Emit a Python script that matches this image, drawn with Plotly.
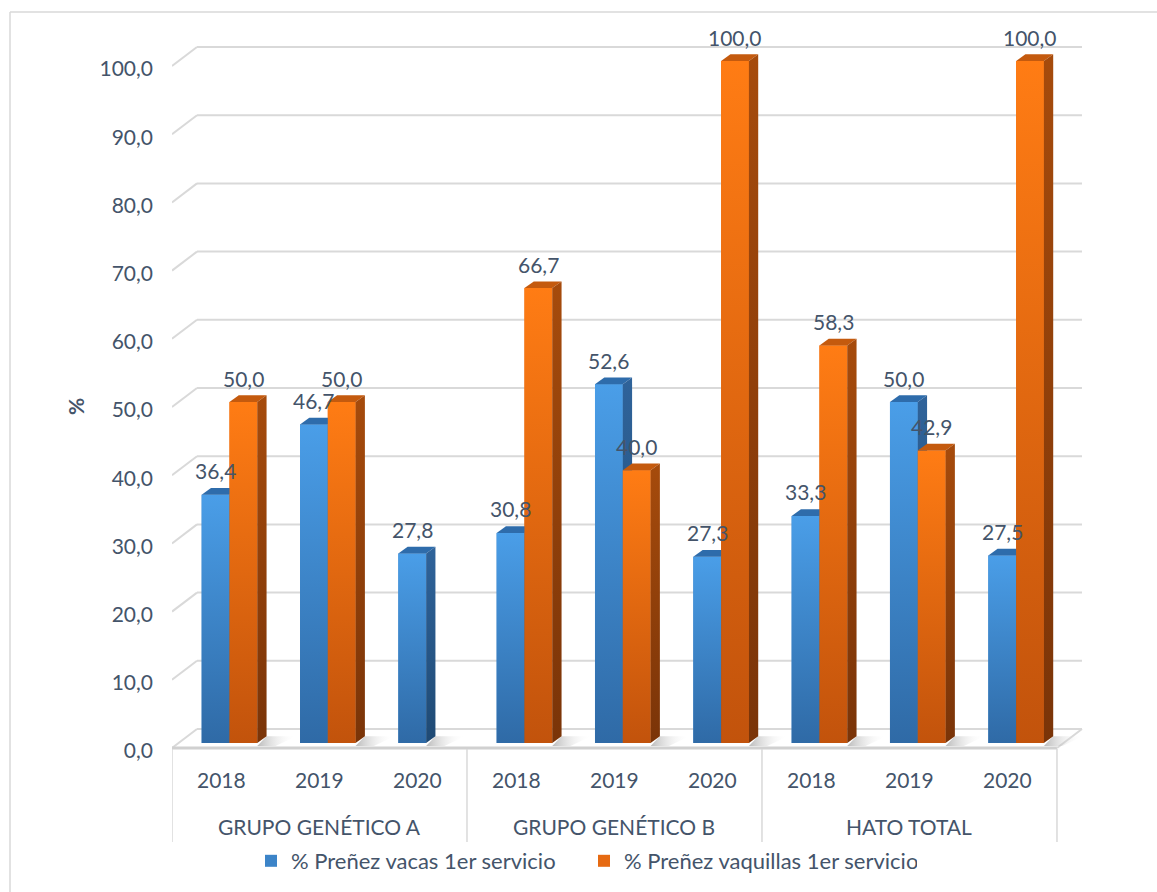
import plotly.graph_objects as go

# ---------------- data ----------------
groups = ["GRUPO GENÉTICO A", "GRUPO GENÉTICO B", "HATO TOTAL"]
years = ["2018", "2019", "2020"]
vacas = [36.4, 46.7, 27.8, 30.8, 52.6, 27.3, 33.3, 50.0, 27.5]
vaquillas = [50.0, 50.0, None, 66.7, 40.0, 100.0, 58.3, 42.9, 100.0]
series_names = ["% Preñez vacas 1er servicio", "% Preñez vaquillas 1er servicio"]
y_ticks = [0, 10, 20, 30, 40, 50, 60, 70, 80, 90, 100]

# ---------------- layout geometry (pixels) ----------------
W_FIG, H_FIG = 1157, 892
L, R, T, B = 172, 1083, 20, 845
Z = 748            # front-plane zero line (px)
SLOT = 98.33       # px per category
PXY = 6.82         # px per value unit


def xd(px):
    return -0.5 + (px - L) / SLOT


def yd(py):
    return (Z - py) / PXY


def xp(px):
    return (px - L) / (R - L)


def yp(py):
    return (B - py) / (B - T)


BDX, BDY = 25 / SLOT, 19 / PXY          # depth of the wall / floor
BAR_W = 27.8 / SLOT
OFFS = [-19.5 / SLOT, (-19.5 + 27.8) / SLOT]
BASE = 5 / PXY
DDX, DDY = 9.3 / SLOT, 6.7 / PXY        # depth of each bar

TXT = "#44546a"
FONT = "Lato"
GRID = "#d9d9d9"

FRONT = [("#2f6aa6", "#4a9ee8"), ("#c2530c", "#ff7c14")]
SIDE = [("#1f4a74", "#2f639a"), ("#7a3408", "#a64b0c")]
TOPC = ["#2e6cab", "#c45a0e"]
MID = ["#3c84c8", "#e66a12"]

n = len(vacas)
series = [vacas, vaquillas]
x_end = 8.5

fig = go.Figure()

# bars (legend + semantics; covered by shaded 3D faces below)
for s, vals in enumerate(series):
    fig.add_trace(go.Bar(
        x=[i + OFFS[s] + BAR_W / 2 for i in range(n)],
        y=vals, base=BASE, width=BAR_W,
        marker=dict(color=MID[s], line=dict(width=0)),
        name=series_names[s], hoverinfo="skip",
    ))


def poly(xs, ys, bot=None, top=None, color=None):
    kw = dict(x=xs + [xs[0]], y=ys + [ys[0]], mode="lines", fill="toself",
              line=dict(width=0), hoverinfo="skip", showlegend=False)
    if color is not None:
        kw["fillcolor"] = color
    else:
        kw["fillgradient"] = dict(type="vertical", colorscale=[[0, bot], [1, top]])
    return go.Scatter(**kw)


# floor shadows
for i in range(n):
    last = 1 if vaquillas[i] is not None else 0
    xr = i + OFFS[last] + BAR_W + DDX
    fig.add_trace(go.Scatter(
        x=[xr - DDX, xr, xr + 0.30, xr + 0.30 - DDX * 2.2, xr - DDX],
        y=[0.3, BASE + DDY, BASE + DDY, 0.3, 0.3],
        mode="lines", fill="toself", line=dict(width=0), hoverinfo="skip", showlegend=False,
        fillgradient=dict(type="horizontal",
                          colorscale=[[0, "rgba(140,140,140,0.6)"], [1, "rgba(255,255,255,0)"]]),
    ))

# 3D bars
for i in range(n):
    for s in range(2):
        v = series[s][i]
        if v is None:
            continue
        x0 = i + OFFS[s]
        x1 = x0 + BAR_W
        top = BASE + v
        fig.add_trace(poly([x0, x1, x1, x0], [BASE, BASE, top, top], FRONT[s][0], FRONT[s][1]))
        fig.add_trace(poly([x0, x1, x1 + DDX, x0 + DDX], [top, top, top + DDY, top + DDY], color=TOPC[s]))
        fig.add_trace(poly([x1, x1 + DDX, x1 + DDX, x1], [BASE, BASE + DDY, top + DDY, top],
                           SIDE[s][0], SIDE[s][1]))

shapes = []
# back-wall gridlines + left-wall diagonals
for t in y_ticks:
    shapes.append(dict(type="line", xref="x", yref="y", x0=-0.5 + BDX, x1=x_end + BDX,
                       y0=t + BDY, y1=t + BDY, line=dict(color=GRID, width=2), layer="below"))
    shapes.append(dict(type="line", xref="x", yref="y", x0=-0.5, x1=-0.5 + BDX,
                       y0=t, y1=t + BDY, line=dict(color=GRID, width=2), layer="below"))
# floor front edge and right edge
shapes.append(dict(type="line", xref="x", yref="y", x0=-0.5, x1=x_end, y0=0, y1=0,
                   line=dict(color="#d0d0d0", width=3), layer="below"))
shapes.append(dict(type="line", xref="x", yref="y", x0=x_end, x1=x_end + BDX, y0=0, y1=BDY,
                   line=dict(color=GRID, width=2), layer="below"))
# category table dividers
for k in range(len(groups) + 1):
    xv = -0.5 + 3 * k
    shapes.append(dict(type="line", xref="x", yref="y", x0=xv, x1=xv, y0=yd(749), y1=yd(842),
                       line=dict(color=GRID, width=1.5), layer="below"))
# chart border (top & left)
shapes.append(dict(type="line", xref="paper", yref="paper", x0=xp(10), x1=xp(1160), y0=yp(12), y1=yp(12),
                   line=dict(color=GRID, width=1.5)))
shapes.append(dict(type="line", xref="paper", yref="paper", x0=xp(10), x1=xp(10), y0=yp(12), y1=yp(900),
                   line=dict(color=GRID, width=1.5)))

annotations = []
# data labels
for s in range(2):
    for i in range(n):
        v = series[s][i]
        if v is None:
            continue
        annotations.append(dict(
            x=i + OFFS[s] + BAR_W / 2, y=BASE + v, xref="x", yref="y",
            text=f"{v:.1f}".replace(".", ","), showarrow=False, yshift=24,
            yanchor="middle", font=dict(family=FONT, size=21, color=TXT)))
# year labels
for i in range(n):
    annotations.append(dict(x=i, y=yd(779), xref="x", yref="y", text=years[i % 3],
                            showarrow=False, font=dict(family=FONT, size=21, color=TXT)))
# group labels
for g, name in enumerate(groups):
    annotations.append(dict(x=3 * g + 1, y=yd(826), xref="x", yref="y", text=name,
                            showarrow=False, font=dict(family=FONT, size=21, color=TXT)))
# y axis title
annotations.append(dict(x=xp(75), y=yp(407), xref="paper", yref="paper", text="<b>%</b>", textangle=-90,
                        xanchor="center", yanchor="middle",
                        showarrow=False, font=dict(family=FONT, size=21, color=TXT)))

fig.update_layout(
    width=W_FIG, height=H_FIG, autosize=False,
    margin=dict(l=L, r=W_FIG - R, t=T, b=H_FIG - B, autoexpand=False),
    paper_bgcolor="white", plot_bgcolor="white",
    separators=",.",
    barmode="overlay",
    showlegend=True,
    legend=dict(orientation="h", xref="container", yref="container",
                x=251 / W_FIG, xanchor="left", y=1 - 861 / H_FIG, yanchor="middle",
                font=dict(family=FONT, size=22, color=TXT), itemwidth=30,
                entrywidth=288, bgcolor="rgba(0,0,0,0)"),
    xaxis=dict(range=[-0.5, -0.5 + (R - L) / SLOT], visible=False, fixedrange=True),
    yaxis=dict(range=[yd(B), yd(T)], tickvals=y_ticks,
               ticktext=[f"{t:.1f}".replace(".", ",") for t in y_ticks],
               showgrid=False, zeroline=False, showline=False, ticks="",
               ticklabelstandoff=18, ticklabelshift=3,
               tickfont=dict(family=FONT, size=21, color=TXT), fixedrange=True),
    shapes=shapes, annotations=annotations,
)

fig.write_html("out.html")
